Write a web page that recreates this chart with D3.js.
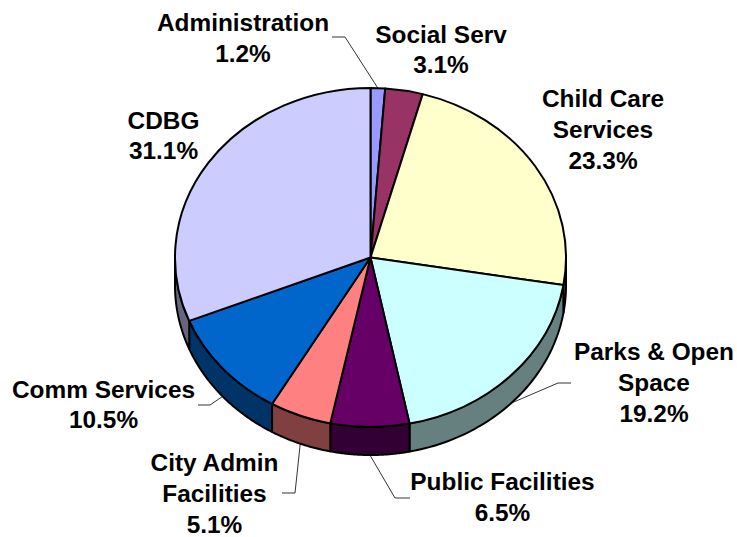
<!DOCTYPE html>
<html>
<head>
<meta charset="utf-8">
<script src="https://cdn.jsdelivr.net/npm/d3@7"></script>
<style>
  html, body { margin: 0; padding: 0; background: #fff; }
  svg { display: block; }
  text { font-family: "Liberation Sans", Arial, sans-serif; font-weight: bold; font-size: 24.4px; fill: #000; }
</style>
</head>
<body>
<svg id="chart" width="737" height="537"></svg>
<script>
// Budget shares, clockwise from twelve o'clock
const categories = ["Administration", "Social Serv", "Child Care Services", "Parks & Open Space",
                    "Public Facilities", "City Admin Facilities", "Comm Services", "CDBG"];
const shares = [1.2, 3.1, 23.3, 19.2, 6.5, 5.1, 10.5, 31.1];
const labelLines = [["Administration"], ["Social Serv"], ["Child Care", "Services"], ["Parks & Open", "Space"],
                    ["Public Facilities"], ["City Admin", "Facilities"], ["Comm Services"], ["CDBG"]];
const topColors = ["#9999FF", "#993366", "#FFFFCC", "#CCFFFF", "#660066", "#FF8080", "#0066CC", "#CCCCFF"];
const wallColors = ["#4C4C80", "#4C1933", "#808066", "#668080", "#330033", "#804040", "#003366", "#666680"];

// Label block placement: horizontal centre and first baseline
const labelX = [243, 441, 603, 654, 502.5, 214.5, 103.5, 163.5];
const labelY = [31, 42.5, 107, 360, 490, 471, 397.5, 128.5];
const lineStep = 30.8;
// Elbow and end of the leader for slices whose label sits away from the rim
const leaders = [
  { index: 0, elbow: [345, 37], end: [332, 37], onWall: false },
  { index: 3, elbow: [558, 383], end: [571, 383], onWall: true },
  { index: 4, elbow: [395, 498], end: [410, 498], onWall: true },
  { index: 5, elbow: [295, 493], end: [282, 493], onWall: true },
  { index: 6, elbow: [210, 405], end: [198, 405], onWall: true }
];

const cx = 370.5, cy = 257.5, rx = 195.5, ry = 169.5, depth = 28;
const svg = d3.select("#chart");

const slices = d3.pie().value(d => d).sort(null)(shares);
const rim = a => [cx + rx * Math.sin(a), cy - ry * Math.cos(a)];

// Outer wall: the front half of each slice, extruded downwards
const halfTurn = Math.PI;
const wallPath = (a0, a1) => {
  const n = 60;
  const top = d3.range(n + 1).map(i => rim(a0 + (a1 - a0) * i / n));
  const bottom = top.map(([x, y]) => [x, y + depth]).reverse();
  return d3.line()(top.concat(bottom)) + "Z";
};

svg.append("g").selectAll("path")
  .data(slices.filter(s => s.endAngle > halfTurn / 2 && s.startAngle < halfTurn * 1.5))
  .join("path")
  .attr("d", s => wallPath(Math.max(s.startAngle, halfTurn / 2), Math.min(s.endAngle, halfTurn * 1.5)))
  .attr("fill", s => wallColors[s.index])
  .attr("stroke", "#000")
  .attr("stroke-width", 2)
  .attr("stroke-linejoin", "round");

// Top face: circular arcs squashed into the tilted ellipse
const arc = d3.arc().innerRadius(0).outerRadius(rx);
svg.append("g")
  .attr("transform", `translate(${cx},${cy}) scale(1,${ry / rx})`)
  .selectAll("path")
  .data(slices)
  .join("path")
  .attr("d", arc)
  .attr("fill", s => topColors[s.index])
  .attr("stroke", "#000")
  .attr("stroke-width", 2)
  .attr("stroke-linejoin", "round")
  .attr("vector-effect", "non-scaling-stroke");

// Leader lines start at the middle of their slice's outer edge
svg.append("g").selectAll("path")
  .data(leaders)
  .join("path")
  .attr("d", l => {
    const s = slices[l.index];
    const [x, y] = rim((s.startAngle + s.endAngle) / 2);
    return d3.line()([[x, y + (l.onWall ? depth : 0)], l.elbow, l.end]);
  })
  .attr("fill", "none")
  .attr("stroke", "#000")
  .attr("stroke-width", 0.8);

// Category names with the share on the last line
const labels = svg.append("g").selectAll("text")
  .data(categories)
  .join("text")
  .attr("text-anchor", "middle");
labels.selectAll("tspan")
  .data((d, i) => labelLines[i].concat(shares[i].toFixed(1) + "%").map((t, j) => ({ t, j, i })))
  .join("tspan")
  .attr("x", d => labelX[d.i])
  .attr("y", d => labelY[d.i] + d.j * lineStep)
  .text(d => d.t);
</script>
</body>
</html>
